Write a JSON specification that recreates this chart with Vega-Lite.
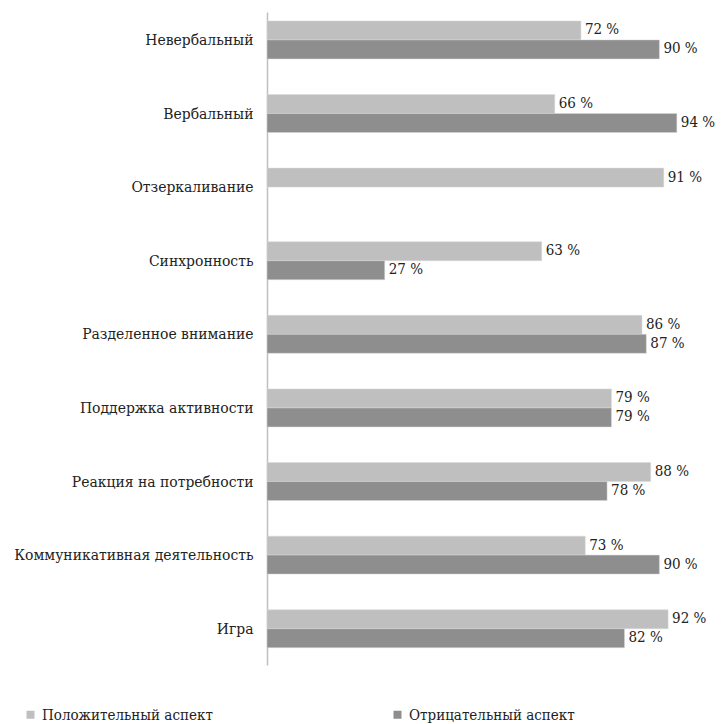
{
  "$schema": "https://vega.github.io/schema/vega-lite/v6.json",
  "width": 436,
  "height": 653,
  "autosize": {"type": "none"},
  "padding": {"left": 267, "top": 12, "right": 22, "bottom": 59},
  "background": "white",
  "config": {
    "view": {"stroke": null},
    "font": "DejaVu Serif Condensed"
  },
  "data": {
    "values": [
      {"category": "Невербальный", "aspect": "Положительный аспект", "value": 72, "label": "72 %"},
      {"category": "Невербальный", "aspect": "Отрицательный аспект", "value": 90, "label": "90 %"},
      {"category": "Вербальный", "aspect": "Положительный аспект", "value": 66, "label": "66 %"},
      {"category": "Вербальный", "aspect": "Отрицательный аспект", "value": 94, "label": "94 %"},
      {"category": "Отзеркаливание", "aspect": "Положительный аспект", "value": 91, "label": "91 %"},
      {"category": "Синхронность", "aspect": "Положительный аспект", "value": 63, "label": "63 %"},
      {"category": "Синхронность", "aspect": "Отрицательный аспект", "value": 27, "label": "27 %"},
      {"category": "Разделенное внимание", "aspect": "Положительный аспект", "value": 86, "label": "86 %"},
      {"category": "Разделенное внимание", "aspect": "Отрицательный аспект", "value": 87, "label": "87 %"},
      {"category": "Поддержка активности", "aspect": "Положительный аспект", "value": 79, "label": "79 %"},
      {"category": "Поддержка активности", "aspect": "Отрицательный аспект", "value": 79, "label": "79 %"},
      {"category": "Реакция на потребности", "aspect": "Положительный аспект", "value": 88, "label": "88 %"},
      {"category": "Реакция на потребности", "aspect": "Отрицательный аспект", "value": 78, "label": "78 %"},
      {"category": "Коммуникативная деятельность", "aspect": "Положительный аспект", "value": 73, "label": "73 %"},
      {"category": "Коммуникативная деятельность", "aspect": "Отрицательный аспект", "value": 90, "label": "90 %"},
      {"category": "Игра", "aspect": "Положительный аспект", "value": 92, "label": "92 %"},
      {"category": "Игра", "aspect": "Отрицательный аспект", "value": 82, "label": "82 %"}
    ]
  },
  "encoding": {
    "y": {
      "field": "category",
      "type": "nominal",
      "sort": null,
      "scale": {"paddingInner": 0.484, "paddingOuter": 0.178, "align": 0.34},
      "axis": {
        "title": null,
        "ticks": false,
        "labelFont": "DejaVu Serif Condensed",
        "labelFontSize": 15.5,
        "labelColor": "#222222",
        "labelPadding": 14,
        "labelLimit": 300,
        "domainColor": "#bfbfbf",
        "domainWidth": 1.5
      }
    },
    "yOffset": {
      "field": "aspect",
      "type": "nominal",
      "sort": ["Положительный аспект", "Отрицательный аспект"],
      "scale": {"domain": ["Положительный аспект", "Отрицательный аспект"], "paddingInner": 0}
    },
    "x": {
      "field": "value",
      "type": "quantitative",
      "scale": {"domain": [0, 100]},
      "axis": null
    }
  },
  "layer": [
    {
      "mark": {"type": "bar", "stroke": "#d9d9d9", "strokeWidth": 0.5},
      "encoding": {
        "color": {
          "field": "aspect",
          "type": "nominal",
          "sort": ["Положительный аспект", "Отрицательный аспект"],
          "scale": {"domain": ["Положительный аспект", "Отрицательный аспект"], "range": ["#bfbfbf", "#8e8e8e"]},
          "legend": {
            "title": null,
            "orient": "none",
            "direction": "horizontal",
            "columns": 2,
            "legendX": -244,
            "legendY": 695,
            "symbolType": "square",
            "symbolSize": 64,
            "symbolStrokeWidth": 0,
            "labelFont": "DejaVu Serif Condensed",
            "labelFontSize": 15,
            "labelColor": "#222222",
            "labelOffset": 4,
            "columnPadding": 177,
            "labelLimit": 300
          }
        }
      }
    },
    {
      "mark": {"type": "text", "align": "left", "baseline": "middle", "dx": 4, "dy": -1, "font": "DejaVu Serif Condensed", "fontSize": 15, "color": "#222222"},
      "encoding": {
        "text": {"field": "label", "type": "nominal"}
      }
    }
  ]
}
